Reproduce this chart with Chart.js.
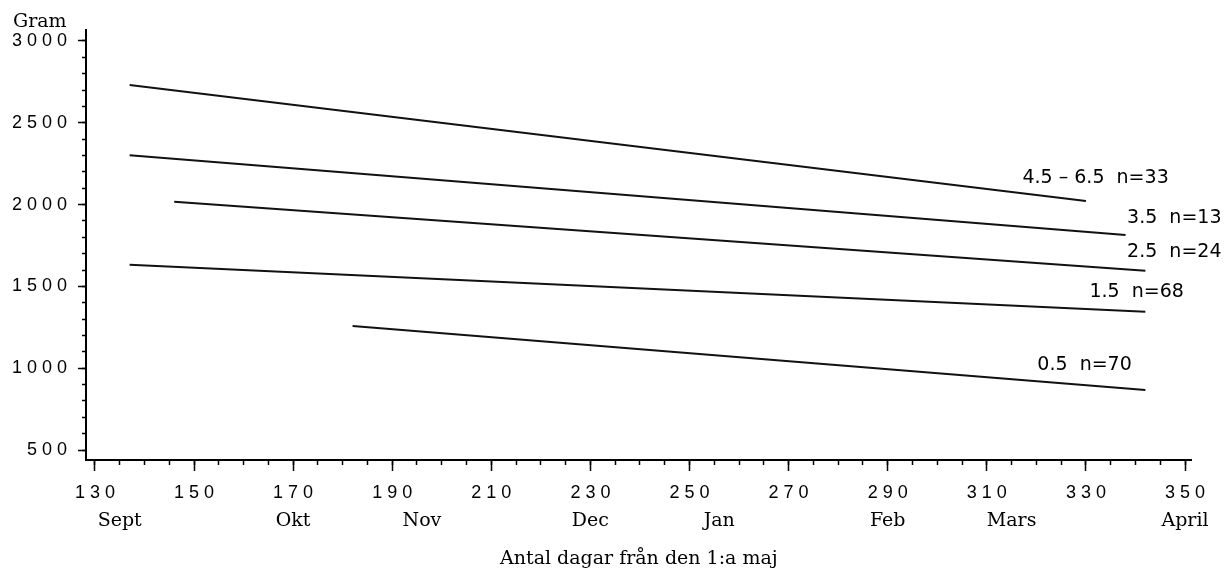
<!DOCTYPE html>
<html>
<head>
<meta charset="utf-8">
<script src="https://cdn.jsdelivr.net/npm/chart.js@4.4.0/dist/chart.umd.min.js"></script>
<style>
  html, body { margin: 0; padding: 0; background: #fff; }
  canvas { display: block; }
</style>
</head>
<body>
<canvas id="chart" width="1229" height="570"></canvas>
<script>
// One straight line per age group: start/end day and start/end weight
const GROUP_LABELS = ["4.5 – 6.5  n=33", "3.5  n=13", "2.5  n=24", "1.5  n=68", "0.5  n=70"];
const START_DAY = [137, 137, 146, 137, 182];
const END_DAY = [330, 338, 342, 342, 342];
const START_GRAM = [2731, 2301, 2018, 1633, 1258];
const END_GRAM = [2022, 1814, 1596, 1345, 867];

// Where each group label sits, in data units (day, gram)
const LABEL_DAY = [317.2, 338.3, 338.3, 330.7, 320.2];
const LABEL_GRAM = [2161, 1915, 1710, 1468, 1017];

// Axis ticks
const X_TICKS = [130, 150, 170, 190, 210, 230, 250, 270, 290, 310, 330, 350];
const MONTH_DAYS = [135, 170, 196, 230, 256, 290, 315, 350];
const MONTH_NAMES = ["Sept", "Okt", "Nov", "Dec", "Jan", "Feb", "Mars", "April"];
const Y_TICKS = [500, 1000, 1500, 2000, 2500, 3000];

const X_MIN = 128.2, X_MAX = 351.35;
const Y_MIN = 439, Y_MAX = 3067;

const BLACK = "#000000";
const TICK_FONT = { family: "Liberation Sans", size: 18 };
const SERIF_FONT = { family: "DejaVu Serif", size: 19 };

// "130" -> "1 3 0", like the old plotter labels
const spaced = v => String(v).split("").join(" ");

function setTicks(values) {
    return scale => { scale.ticks = values.map(v => ({ value: v })); };
}

function stepTicks(from, to, step) {
    const out = [];
    for (let v = from; v <= to; v += step) out.push(v);
    return out;
}

// Draw the group labels next to the line ends
const groupLabelPlugin = {
    id: "groupLabels",
    afterDatasetsDraw(chart) {
        const { ctx, scales } = chart;
        ctx.save();
        ctx.font = '19px "DejaVu Sans"';
        ctx.fillStyle = BLACK;
        ctx.textAlign = "left";
        ctx.textBaseline = "middle";
        GROUP_LABELS.forEach((t, i) => {
            ctx.fillText(t, scales.x.getPixelForValue(LABEL_DAY[i]), scales.y.getPixelForValue(LABEL_GRAM[i]));
        });
        ctx.restore();
    }
};

const datasets = GROUP_LABELS.map((g, i) => ({
    label: g,
    data: [
        { x: START_DAY[i], y: START_GRAM[i] },
        { x: END_DAY[i], y: END_GRAM[i] }
    ],
    borderColor: "#111111",
    borderWidth: 2,
    pointRadius: 0,
    tension: 0,
    fill: false,
    xAxisID: "x",
    yAxisID: "y"
}));

const config = {
    type: "line",
    data: { datasets: datasets },
    options: {
        responsive: false,
        animation: false,
        layout: { padding: { left: 13, right: 37.3, top: 0, bottom: 0 } },
        plugins: {
            legend: { display: false },
            tooltip: { enabled: false },
            title: {
                display: true,
                text: "Gram",
                align: "start",
                color: BLACK,
                font: { family: "DejaVu Serif", size: 19, weight: "normal" },
                padding: { top: 10.6, bottom: -3.4 }
            }
        },
        scales: {
            x: {
                type: "linear", position: "bottom", min: X_MIN, max: X_MAX, bounds: "data", weight: 0,
                afterBuildTicks: setTicks(X_TICKS),
                afterFit: s => { s.height = 40; },
                ticks: { autoSkip: false, maxRotation: 0, padding: 11, color: BLACK, font: TICK_FONT, callback: v => spaced(v) },
                grid: { drawOnChartArea: false, tickLength: 11, tickWidth: 1.5, tickColor: BLACK },
                border: { color: BLACK, width: 2 }
            },
            xMinor: {
                type: "linear", position: "bottom", min: X_MIN, max: X_MAX, bounds: "data", weight: -1,
                afterBuildTicks: setTicks(stepTicks(130, 350, 5)),
                afterFit: s => { s.height = 0; },
                ticks: { display: false, autoSkip: false },
                grid: { drawOnChartArea: false, tickLength: 5, tickWidth: 1.5, tickColor: BLACK },
                border: { display: false }
            },
            month: {
                type: "linear", position: "bottom", min: X_MIN, max: X_MAX, bounds: "data", weight: 1,
                afterBuildTicks: setTicks(MONTH_DAYS),
                afterFit: s => { s.height = 70; },
                ticks: { autoSkip: false, maxRotation: 0, padding: 2, color: BLACK, font: SERIF_FONT, callback: (v, i) => MONTH_NAMES[i] },
                grid: { display: false },
                border: { display: false },
                title: {
                    display: true,
                    text: "Antal dagar från den 1:a maj",
                    color: BLACK,
                    font: SERIF_FONT,
                    padding: { top: 0, bottom: 0 }
                }
            },
            y: {
                type: "linear", position: "left", min: Y_MIN, max: Y_MAX, bounds: "data", weight: 0,
                afterBuildTicks: setTicks(Y_TICKS),
                afterFit: s => { s.width = 73; },
                ticks: { autoSkip: false, padding: 11, color: BLACK, font: TICK_FONT, callback: v => spaced(v) },
                grid: { drawOnChartArea: false, tickLength: 8, tickWidth: 1.5, tickColor: BLACK },
                border: { color: BLACK, width: 2 }
            },
            yMinor: {
                type: "linear", position: "left", min: Y_MIN, max: Y_MAX, bounds: "data", weight: -1,
                afterBuildTicks: setTicks(stepTicks(500, 3000, 100)),
                afterFit: s => { s.width = 0; },
                ticks: { display: false, autoSkip: false },
                grid: { drawOnChartArea: false, tickLength: 4, tickWidth: 1.5, tickColor: BLACK },
                border: { display: false }
            }
        }
    },
    plugins: [groupLabelPlugin]
};

const ctx = document.getElementById("chart").getContext("2d");
const chart = new Chart(ctx, config);
</script>
</body>
</html>
